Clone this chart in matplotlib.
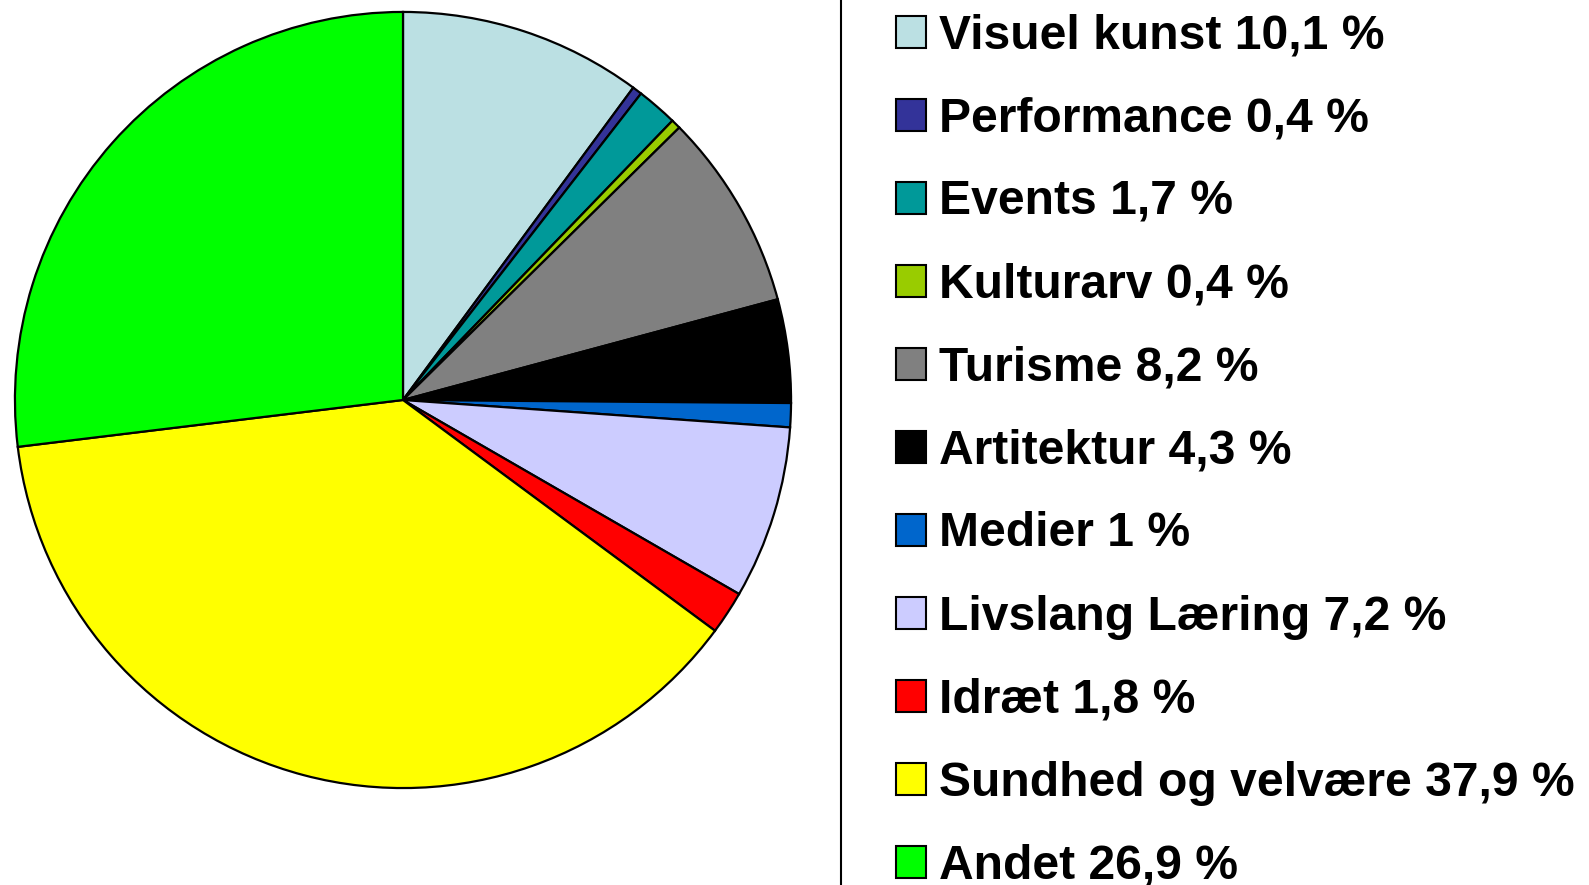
import matplotlib
matplotlib.use("Agg")
import matplotlib.pyplot as plt
from matplotlib.patches import Rectangle
from matplotlib.lines import Line2D

# Data
labels = ['Visuel kunst', 'Performance', 'Events', 'Kulturarv', 'Turisme',
          'Artitektur', 'Medier', 'Livslang Læring', 'Idræt',
          'Sundhed og velvære', 'Andet']
values = [10.1, 0.4, 1.7, 0.4, 8.2, 4.3, 1, 7.2, 1.8, 37.9, 26.9]
value_text = ['10,1', '0,4', '1,7', '0,4', '8,2', '4,3', '1', '7,2', '1,8', '37,9', '26,9']
colors = ['#BBE0E3', '#333399', '#009999', '#99CC00', '#808080', '#000000',
          '#0066CC', '#CCCCFF', '#FF0000', '#FFFF00', '#00FF00']

W, H = 1589, 885
fig = plt.figure(figsize=(W / 100, H / 100), dpi=100)

# pie: centre (403, 400) px from top-left, radius 390 px
cx, cy, r = 403, 400, 390
ax = fig.add_axes([(cx - r) / W, (H - cy - r) / H, 2 * r / W, 2 * r / H])
wedges, _ = ax.pie(values, colors=colors, startangle=90, counterclock=False,
                   wedgeprops=dict(edgecolor='black', linewidth=1.6))
ax.set_xlim(-1.005, 1.005)
ax.set_ylim(-1.005, 1.005)
ax.axis('off')

# vertical separator line
fig.add_artist(Line2D([841 / W, 841 / W], [0, 1], color='black', linewidth=1.5))

# legend drawn by hand
font = dict(family=['Liberation Sans', 'DejaVu Sans'], weight='bold', size=34.6)
top = 32
pitch = 83
for i, (lab, val, col) in enumerate(zip(labels, value_text, colors)):
    yc = top + i * pitch
    fig.add_artist(Rectangle((896 / W, (H - yc - 16) / H), 30 / W, 32 / H,
                             facecolor=col, edgecolor='black', linewidth=1.5,
                             transform=fig.transFigure))
    fig.text(939 / W, (H - yc - 16.5) / H, f'{lab} {val} %', va='baseline',
             ha='left', **font)

fig.savefig('out.png', dpi=100)
